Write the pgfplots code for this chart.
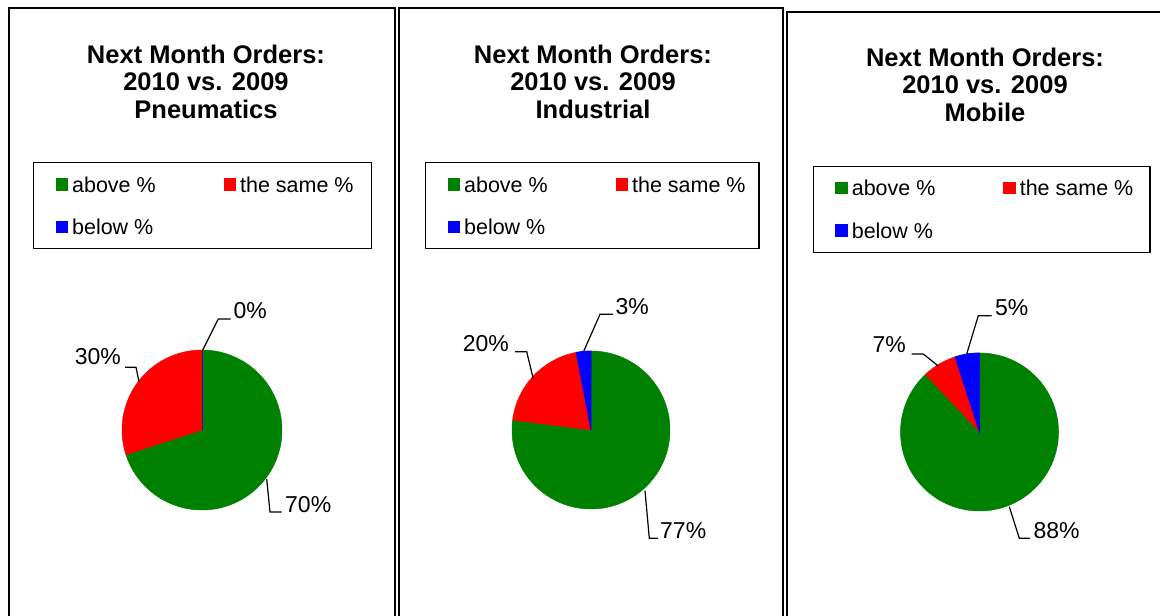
\documentclass[border=0pt]{standalone}
\usepackage{pgfplots}
\usepackage{pgfplotstable}
\pgfplotsset{compat=1.18}
\usepackage{fontspec}
\setmainfont{Liberation Sans}

\definecolor{pgreen}{HTML}{008000}
\definecolor{pred}{HTML}{FF0000}
\definecolor{pblue}{HTML}{0000FF}

% ---- data (percent) ----
\pgfplotstableread{
cat value
above 70
same 30
below 0
}\pneu
\pgfplotstableread{
cat value
above 77
same 20
below 3
}\indu
\pgfplotstableread{
cat value
above 88
same 7
below 5
}\mobi

\newcommand{\pieangles}[1]{%
  \pgfplotstablegetelem{0}{value}\of#1\pgfmathsetmacro{\va}{\pgfplotsretval}%
  \pgfplotstablegetelem{1}{value}\of#1\pgfmathsetmacro{\vb}{\pgfplotsretval}%
  \pgfplotstablegetelem{2}{value}\of#1\pgfmathsetmacro{\vc}{\pgfplotsretval}%
  \pgfmathsetmacro{\aA}{90-3.6*\va}%
  \pgfmathsetmacro{\aB}{\aA-3.6*\vb}%
  \pgfmathsetmacro{\aC}{\aB-3.6*\vc}%
}
\newcommand{\pieslices}[3]{%
  \filldraw[pgreen, line width=0.5pt] (axis cs:#1,#2) -- ++(90:#3pt) arc[start angle=90, end angle=\aA, radius=#3pt] -- cycle;
  \filldraw[pred, line width=0.5pt] (axis cs:#1,#2) -- ++(\aA:#3pt) arc[start angle=\aA, end angle=\aB, radius=#3pt] -- cycle;
  \filldraw[pblue, line width=0.8pt] (axis cs:#1,#2) -- ++(\aB:#3pt) arc[start angle=\aB, end angle=\aC, radius=#3pt] -- cycle;
}
\newcommand{\pct}[1]{\pgfmathprintnumber[fixed,precision=0,assume math mode=true]{#1}\%}
\newcommand{\tfont}{\fontsize{25.5}{27.5}\selectfont\bfseries}
\newcommand{\lfont}{\fontsize{23}{27}\selectfont}

\pgfplotsset{
  panel/.style={
    scale only axis, axis lines=box, xtick=\empty, ytick=\empty,
    axis line style={line width=1.5pt, black}, clip=false, anchor=south west,
    legend columns=2,
    legend style={draw=black, line width=1.2pt, fill=white, anchor=north west,
      inner xsep=22pt, inner ysep=12.7pt, row sep=23.7pt, column sep=0pt,
      font=\fontsize{21.5}{24}\selectfont, cells={anchor=base west},
      nodes={inner sep=0pt, text height=17pt, text depth=1.6pt}},
  },
  sqleg/.style={legend image code/.code={%
      \fill[##1] (0pt,1.5pt) rectangle (12.5pt,14pt);
      \path (16.5pt,0pt);}},
}

\begin{document}
\begin{tikzpicture}
\useasboundingbox (0,0) rectangle (1160pt,616pt);
\clip (0,0) rectangle (1160pt,616pt);

% ================= Panel 1: Pneumatics =================
\pieangles{\pneu}
\begin{axis}[panel, width=386pt, height=632pt, at={(9pt,-24pt)},
  xmin=9, xmax=395, ymin=-24, ymax=608,
  legend style={at={(0.06218,0.75633)}}]
\addlegendimage{sqleg, fill=pgreen, draw=none}\addlegendentry{\makebox[151.5pt][l]{above \%}}
\addlegendimage{sqleg, fill=pred, draw=none}\addlegendentry{\makebox[109.5pt][l]{the same \%}}
\addlegendimage{sqleg, fill=pblue, draw=none}\addlegendentry{\makebox[151.5pt][l]{below \%}}
\pieslices{202}{186}{80}
\node[anchor=base, font=\tfont] at (axis cs:206,552.7) {Next Month Orders:};
\node[anchor=base, font=\tfont] at (axis cs:206,525.2) {2010 vs. 2009};
\node[anchor=base, font=\tfont] at (axis cs:206,497.7) {Pneumatics};
\draw[line width=1.2pt] (axis cs:202.7,266) -- (axis cs:218.3,297) -- (axis cs:230.7,297);
\node[anchor=base west, inner sep=0pt, font=\lfont] at (axis cs:233.3,297.7) {\pct{\vc}};
\draw[line width=1.2pt] (axis cs:139,234.3) -- (axis cs:136,248.7) -- (axis cs:125,248.7);
\node[anchor=base east, inner sep=0pt, font=\lfont] at (axis cs:121,251) {\pct{\vb}};
\draw[line width=1.2pt] (axis cs:266.7,137) -- (axis cs:270,104) -- (axis cs:281.7,104);
\node[anchor=base west, inner sep=0pt, font=\lfont] at (axis cs:285,103.7) {\pct{\va}};
\end{axis}

% ================= Panel 2: Industrial =================
\pieangles{\indu}
\begin{axis}[panel, width=384pt, height=632pt, at={(399pt,-24pt)},
  xmin=399, xmax=783, ymin=-24, ymax=608,
  legend style={at={(0.06771,0.75633)}}]
\addlegendimage{sqleg, fill=pgreen, draw=none}\addlegendentry{\makebox[151.5pt][l]{above \%}}
\addlegendimage{sqleg, fill=pred, draw=none}\addlegendentry{\makebox[104.8pt][l]{the same \%}}
\addlegendimage{sqleg, fill=pblue, draw=none}\addlegendentry{\makebox[151.5pt][l]{below \%}}
\pieslices{591}{186}{79}
\node[anchor=base, font=\tfont] at (axis cs:593,552.7) {Next Month Orders:};
\node[anchor=base, font=\tfont] at (axis cs:593,525.2) {2010 vs. 2009};
\node[anchor=base, font=\tfont] at (axis cs:593,497.7) {Industrial};
\draw[line width=1.2pt] (axis cs:583.7,264.7) -- (axis cs:600,301.7) -- (axis cs:613,301.7);
\node[anchor=base west, inner sep=0pt, font=\lfont] at (axis cs:615.3,301) {\pct{\vc}};
\draw[line width=1.2pt] (axis cs:533.3,237) -- (axis cs:526.7,264.3) -- (axis cs:515,264.3);
\node[anchor=base east, inner sep=0pt, font=\lfont] at (axis cs:509,264.3) {\pct{\vb}};
\draw[line width=1.2pt] (axis cs:645,125.3) -- (axis cs:649.3,77.7) -- (axis cs:658,77.7);
\node[anchor=base west, inner sep=0pt, font=\lfont] at (axis cs:660,77.7) {\pct{\va}};
\end{axis}

% ================= Panel 3: Mobile =================
\pieangles{\mobi}
\begin{axis}[panel, width=393pt, height=628pt, at={(787pt,-24pt)},
  xmin=787, xmax=1180, ymin=-24, ymax=604,
  legend style={at={(0.06539,0.75525)}}]
\addlegendimage{sqleg, fill=pgreen, draw=none}\addlegendentry{\makebox[151.5pt][l]{above \%}}
\addlegendimage{sqleg, fill=pred, draw=none}\addlegendentry{\makebox[108.1pt][l]{the same \%}}
\addlegendimage{sqleg, fill=pblue, draw=none}\addlegendentry{\makebox[151.5pt][l]{below \%}}
\pieslices{979.5}{184}{79}
\node[anchor=base, font=\tfont] at (axis cs:985,549.5) {Next Month Orders:};
\node[anchor=base, font=\tfont] at (axis cs:985,522) {2010 vs. 2009};
\node[anchor=base, font=\tfont] at (axis cs:985,494.5) {Mobile};
\draw[line width=1.2pt] (axis cs:966.7,262) -- (axis cs:978.3,300.3) -- (axis cs:991.7,300.3);
\node[anchor=base west, inner sep=0pt, font=\lfont] at (axis cs:995,300.3) {\pct{\vc}};
\draw[line width=1.2pt] (axis cs:938.3,250) -- (axis cs:923.3,262) -- (axis cs:911.7,262);
\node[anchor=base east, inner sep=0pt, font=\lfont] at (axis cs:906,263.3) {\pct{\vb}};
\draw[line width=1.2pt] (axis cs:1009.3,109.3) -- (axis cs:1019.3,77.7) -- (axis cs:1030,77.7);
\node[anchor=base west, inner sep=0pt, font=\lfont] at (axis cs:1033.3,77.7) {\pct{\va}};
\end{axis}
\end{tikzpicture}
\end{document}
